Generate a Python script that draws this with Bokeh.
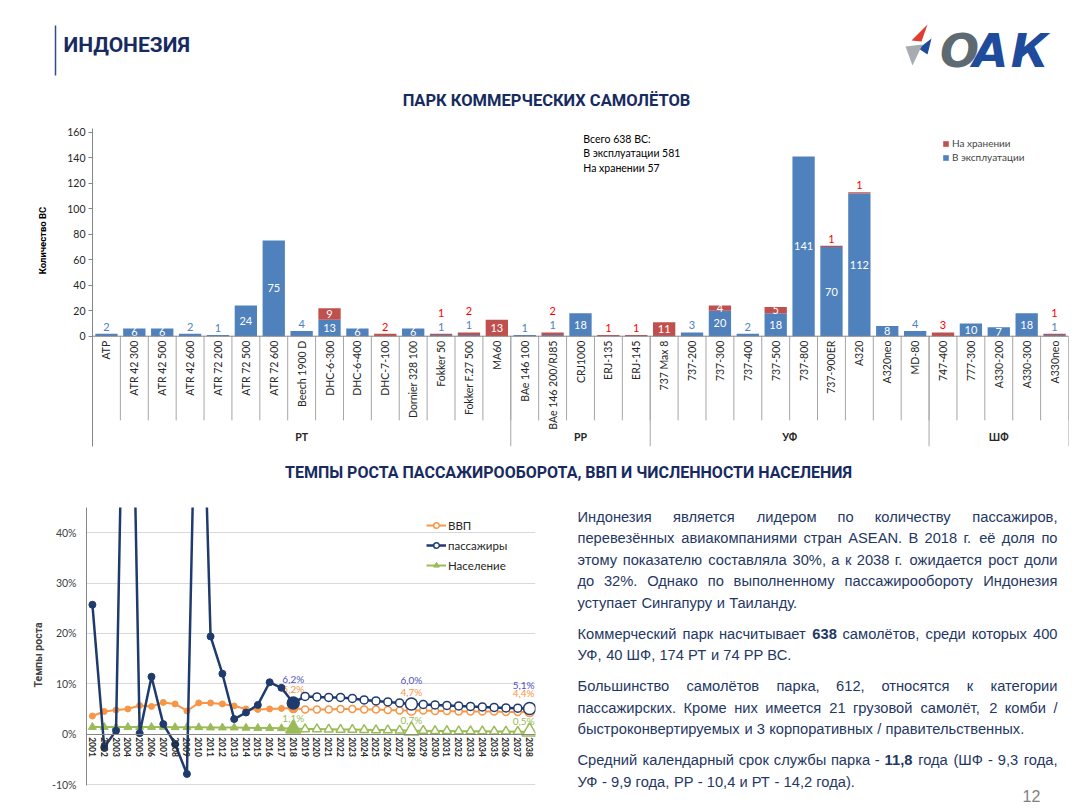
import math
from bokeh.plotting import figure
from bokeh.models import (Range1d, FactorRange, FixedTicker, PrintfTickFormatter,
                          Span, Legend, LegendItem, ColumnDataSource)
from bokeh.layouts import column, row
from bokeh.core.properties import value
from bokeh.embed import file_html
from bokeh.resources import INLINE

# ---------------------------------------------------------------- data
groups = ["РТ", "РР", "УФ", "ШФ"]
group_sizes = [15, 5, 10, 5]
categories = ["ATP", "ATR 42 300", "ATR 42 500", "ATR 42 600", "ATR 72 200",
              "ATR 72 500", "ATR 72 600", "Beech 1900 D", "DHC-6-300", "DHC-6-400",
              "DHC-7-100", "Dornier 328 100", "Fokker 50", "Fokker F.27 500", "MA60",
              "BAe 146 100", "BAe 146 200/RJ85", "CRJ1000", "ERJ-135", "ERJ-145",
              "737 Max 8", "737-200", "737-300", "737-400", "737-500", "737-800",
              "737-900ER", "A320", "A320neo", "MD-80",
              "747-400", "777-300", "A330-200", "A330-300", "A330neo"]
in_service = [2, 6, 6, 2, 1, 24, 75, 4, 13, 6, 0, 6, 1, 1, 0,
              1, 1, 18, 0, 0,
              0, 3, 20, 2, 18, 141, 70, 112, 8, 4,
              0, 10, 7, 18, 1]
in_storage = [0, 0, 0, 0, 0, 0, 0, 0, 9, 0, 2, 0, 1, 2, 13,
              0, 2, 0, 1, 1,
              11, 0, 4, 0, 5, 0, 1, 1, 0, 0,
              3, 0, 0, 0, 1]
fleet_note = ["Всего 638 ВС:", "В эксплуатации 581", "На хранении 57"]
bar_ticks = [0, 20, 40, 60, 80, 100, 120, 140, 160]

years = [str(y) for y in range(2001, 2039)]
gdp = [3.6, 4.5, 4.8, 5.0, 5.7, 5.5, 6.3, 6.0, 4.6, 6.2, 6.2, 6.0, 5.6, 5.0, 4.9, 5.0, 5.1, 5.2,
       4.9, 4.9, 4.9, 5.0, 5.0, 4.9, 4.9, 4.8, 4.7, 4.7, 4.7, 4.6, 4.6, 4.5, 4.5, 4.5, 4.5, 4.4, 4.4, 4.4]
passengers = [25.7, -2.6, 0.7, 125.0, 0.2, 11.4, 2.0, -2.0, -7.9, 102.0, 19.4, 12.0, 3.0, 4.3, 5.8, 10.3, 9.2, 6.2,
              7.5, 7.4, 7.3, 7.3, 7.1, 6.8, 6.6, 6.4, 6.2, 6.0, 5.9, 5.8, 5.7, 5.6, 5.5, 5.4, 5.3, 5.2, 5.15, 5.1]
population = [1.4, 1.4, 1.4, 1.4, 1.4, 1.4, 1.4, 1.35, 1.35, 1.35, 1.3, 1.3, 1.3, 1.25, 1.2, 1.2, 1.15, 1.1,
              1.0, 1.0, 0.95, 0.9, 0.9, 0.85, 0.8, 0.8, 0.75, 0.7, 0.7, 0.65, 0.65, 0.6, 0.6, 0.6, 0.55, 0.55, 0.5, 0.5]
last_actual_year = "2018"
highlight_years = ["2018", "2028", "2038"]
growth_ticks = [-10, 0, 10, 20, 30, 40]

paragraphs = [
    ["Индонезия является лидером по количеству пассажиров,",
     "перевезённых авиакомпаниями стран ASEAN. В 2018 г. её доля по",
     "этому показателю составляла 30%, а к 2038 г. ожидается рост доли",
     "до 32%. Однако по выполненному пассажирообороту Индонезия",
     "уступает Сингапуру и Таиланду."],
    ["Коммерческий парк насчитывает **638 самолётов, среди которых 400",
     "УФ, 40 ШФ, 174 РТ и 74 РР ВС."],
    ["Большинство самолётов парка, 612, относятся к категории",
     "пассажирских. Кроме них имеется 21 грузовой самолёт, 2 комби /",
     "быстроконвертируемых и 3 корпоративных / правительственных."],
    ["Средний календарный срок службы парка - **11,8 года (ШФ - 9,3 года,",
     "УФ - 9,9 года, РР - 10,4 и РТ - 14,2 года)."],
]

# ---------------------------------------------------------------- style
COND = "Roboto"
CAL = "Lato"
ARIAL = "Liberation Sans"
NAVY = "#172B61"
BLUE = "#4F81BD"
RED = "#C0504D"
ORANGE = "#F79646"
DARKBLUE = "#1F3B6E"
GREEN = "#9BBB59"
TEXTBLUE = "#1F3864"


def blank(w, h, x0, y0, top=0, bottom=0):
    """Decoration canvas whose data coordinates equal page pixels."""
    f = figure(width=w, height=h, x_range=Range1d(x0, x0 + w),
               y_range=Range1d(y0 + h - bottom, y0 + top),
               toolbar_location=None, output_backend="svg",
               min_border_left=0, min_border_right=0,
               min_border_top=top, min_border_bottom=bottom)
    f.axis.visible = False
    f.grid.visible = False
    f.outline_line_color = None
    return f


# ---------------------------------------------------------------- header
hdr = blank(1080, 120, 0, 0)
hdr.segment(x0=[55], y0=[25], x1=[55], y1=[75], line_color="#2F4D8F", line_width=1.5)
hdr.text(x=[63], y=[44], text=["ИНДОНЕЗИЯ"], text_font=value(COND), text_font_style="bold",
         text_font_size="21px", text_color=NAVY, text_align="left", text_baseline="middle")
hdr.text(x=[546], y=[100], text=["ПАРК КОММЕРЧЕСКИХ САМОЛЁТОВ"], text_font=value(COND),
         text_font_style="bold", text_font_size="16.5px", text_color=NAVY,
         text_align="center", text_baseline="middle")
# logo
hdr.patches(xs=[[927, 911, 921], [931, 918, 927], [905, 922, 912]],
            ys=[[24, 40, 41], [38, 48, 54], [46, 44, 65]],
            fill_color=["#E03C31", "#1E4B9B", "#A7ACB0"], line_color=None)
hdr.text(x=[959, 990, 1029], y=[50, 50, 50], text=["О", "А", "К"],
         text_color=["#5E6A71", "#1E4B9B", "#1E4B9B"], text_font=value("DejaVu Sans"),
         text_font_style="bold italic", text_font_size="46px",
         text_align="center", text_baseline="middle")

# ---------------------------------------------------------------- bar chart
n = len(categories)
totals = [a + b for a, b in zip(in_service, in_storage)]
Y_TOP, Y_BOT = 162.9, -86.5
bar = figure(width=1022, height=332, x_range=FactorRange(factors=categories, range_padding=0),
             y_range=Range1d(Y_BOT, Y_TOP), toolbar_location=None, output_backend="svg",
             min_border_left=34, min_border_right=12, min_border_top=8, min_border_bottom=6)
bar.outline_line_color = None
bar.xaxis.visible = False
bar.grid.visible = False
bar.yaxis.ticker = FixedTicker(ticks=bar_ticks)
bar.yaxis.minor_tick_line_color = None
bar.yaxis.major_tick_out = 4
bar.yaxis.major_tick_in = 0
bar.yaxis.axis_line_color = "#868686"
bar.yaxis.major_tick_line_color = "#868686"
bar.yaxis.major_label_text_font = CAL
bar.yaxis.major_label_text_font_size = "10.5px"
bar.yaxis.major_label_text_color = "#262626"
bar.yaxis.major_label_standoff = 3

r_serv = bar.vbar(x=categories, bottom=0, top=in_service, width=0.8,
                  fill_color=BLUE, line_color=None)
r_stor = bar.vbar(x=categories, bottom=in_service, top=totals, width=0.8,
                  fill_color=RED, line_color=None)
bar.add_layout(Span(location=0, dimension="width", line_color="#868686", line_width=1))

# value labels
lx, ly, lt, lc_ = [], [], [], []
for c, b, r, t in zip(categories, in_service, in_storage, totals):
    blue_above = 0 < b < 5
    if b >= 5:
        lx.append(c); ly.append(b / 2); lt.append(str(b)); lc_.append("white")
    elif b > 0:
        lx.append(c); ly.append(t + 5.5); lt.append(str(b)); lc_.append(BLUE)
    if r >= 4:
        lx.append(c); ly.append(b + r / 2); lt.append(str(r)); lc_.append("white")
    elif r > 0:
        lx.append(c); ly.append(t + (16.5 if blue_above else 5.5)); lt.append(str(r)); lc_.append("#FF0000")
bar.text(x="x", y="y", text="t", text_color="c",
         source=ColumnDataSource(dict(x=lx, y=ly, t=lt, c=lc_)),
         text_font=value(CAL), text_font_size="11px", text_align="center", text_baseline="middle")

# multi-level category axis drawn below zero
bounds = list(range(n + 1))
cum = [0]
for s in group_sizes:
    cum.append(cum[-1] + s)
bar.segment(x0=bounds, y0=[0] * len(bounds), x1=bounds, y1=[-66] * len(bounds),
            line_color="#A6A6A6", line_width=1)
bar.segment(x0=cum, y0=[0] * len(cum), x1=cum, y1=[Y_BOT] * len(cum),
            line_color="#A6A6A6", line_width=1)
bar.text(x=categories, y=[-3.5] * n, text=categories, angle=math.pi / 2,
         text_align="right", text_baseline="middle", text_font=value(CAL),
         text_font_size="10.5px", text_color="#262626")
bar.text(x=[(cum[i] + cum[i + 1]) / 2 for i in range(len(groups))], y=[-79] * len(groups),
         text=groups, text_align="center", text_baseline="middle", text_font=value(CAL),
         text_font_style="bold", text_font_size="10.5px", text_color="#262626")

bar.text(x=[17.6] * 3, y=[155, 143.3, 132.3], text=fleet_note, text_align="left",
         text_baseline="middle", text_font=value(CAL), text_font_size="10.5px", text_color="#000000")

leg = Legend(items=[LegendItem(label="На хранении", renderers=[r_stor]),
                    LegendItem(label="В эксплуатации", renderers=[r_serv])],
             location=(848, 281), glyph_width=7, glyph_height=7, label_height=12,
             label_standoff=3, spacing=2, padding=2, margin=0,
             label_text_font=CAL, label_text_font_size="10px",
             border_line_alpha=0, background_fill_alpha=0)
bar.add_layout(leg)

ylab = blank(58, 332, 0, 120, top=8, bottom=6)
ylab.text(x=[42], y=[240], text=["Количество ВС"], angle=math.pi / 2,
          text_align="center", text_baseline="middle", text_font=value(COND),
          text_font_style="bold", text_font_size="9.5px", text_color="#000000")

# ---------------------------------------------------------------- second title
sub2 = blank(1080, 40, 0, 452)
sub2.text(x=[568], y=[472], text=["ТЕМПЫ РОСТА ПАССАЖИРООБОРОТА, ВВП И ЧИСЛЕННОСТИ НАСЕЛЕНИЯ"],
          text_font=value(COND), text_font_style="bold", text_font_size="16px",
          text_color=NAVY, text_align="center", text_baseline="middle")

# ---------------------------------------------------------------- line chart
lc = figure(width=560, height=316, x_range=FactorRange(factors=years, range_padding=0),
            y_range=Range1d(-13.57, 45), toolbar_location=None, output_backend="svg",
            min_border_left=86, min_border_right=25, min_border_top=15, min_border_bottom=6)
lc.outline_line_color = None
lc.xgrid.visible = False
lc.ygrid.ticker = FixedTicker(ticks=growth_ticks)
lc.ygrid.grid_line_color = "#D9D9D9"
lc.yaxis.ticker = FixedTicker(ticks=growth_ticks)
lc.yaxis.bounds = (-10.2, 45)
lc.yaxis.formatter = PrintfTickFormatter(format="%d%%")
lc.yaxis.axis_label = "Темпы роста"
lc.yaxis.axis_label_text_font = COND
lc.yaxis.axis_label_text_font_style = "bold"
lc.yaxis.axis_label_text_font_size = "10.5px"
lc.yaxis.axis_label_standoff = 4
lc.yaxis.axis_line_color = "#868686"
lc.yaxis.major_tick_out = 0
lc.yaxis.major_tick_in = 0
lc.yaxis.minor_tick_line_color = None
lc.yaxis.major_label_standoff = 10
lc.yaxis.major_label_text_font = CAL
lc.yaxis.major_label_text_font_size = "10.5px"
lc.yaxis.major_label_text_color = "#404040"
lc.xaxis.fixed_location = 0
lc.xaxis.axis_line_color = "#868686"
lc.xaxis.major_tick_out = 0
lc.xaxis.major_tick_in = 0
lc.xaxis.major_label_orientation = "vertical"
lc.xaxis.major_label_standoff = 3
lc.xaxis.major_label_text_font = CAL
lc.xaxis.major_label_text_font_style = "bold"
lc.xaxis.major_label_text_font_size = "8.5px"
lc.xaxis.major_label_text_color = "#262626"

n_hist = years.index(last_actual_year) + 1


def pct(v):
    return f"{v:.1f}".replace(".", ",") + "%"


def series(ys, color, marker, s_hist, s_fc, s_hi, lw, lab_color, lab_off):
    ln = lc.line(years, ys, line_color=color, line_width=lw)
    hist = lc.scatter(years[:n_hist], ys[:n_hist], marker=marker, size=s_hist,
                      fill_color=color, line_color=color)
    fc = lc.scatter(years[n_hist:], ys[n_hist:], marker=marker, size=s_fc,
                    fill_color="white", line_color=color, line_width=1.5)
    hy = [ys[years.index(y)] for y in highlight_years]
    hf = [color if years.index(y) < n_hist else "white" for y in highlight_years]
    lc.scatter(highlight_years, hy, marker=marker, size=s_hi, fill_color=hf,
               line_color=color, line_width=1.5)
    style = dict(text_color=lab_color, text_font=value(CAL), text_font_size="10px",
                 text_baseline="middle")
    # inner highlighted years: centred labels; last year: kept inside the plot
    lc.text(x=highlight_years[:-1], y=[v + lab_off for v in hy[:-1]],
            text=[pct(v) for v in hy[:-1]], text_align="center", **style)
    lc.text(x=highlight_years[-1:], y=[v + lab_off for v in hy[-1:]],
            text=[pct(v) for v in hy[-1:]], text_align="right", x_offset=5, **style)
    return ln, hist, fc


pop_r = series(population, GREEN, "triangle", 8, 9, 15, 2, GREEN, 2.1)
gdp_r = series(gdp, ORANGE, "circle", 6, 7, 9, 2, ORANGE, 3.7)
pas_r = series(passengers, DARKBLUE, "circle", 7, 8, 12, 2.5, "#5050C0", 4.7)

lleg = Legend(items=[LegendItem(label="ВВП", renderers=[gdp_r[0], gdp_r[2]]),
                     LegendItem(label="пассажиры", renderers=[pas_r[0], pas_r[2]]),
                     LegendItem(label="Население", renderers=[pop_r[0], pop_r[1]])],
              location=(340, 229), glyph_width=20, glyph_height=14, label_height=16,
              label_standoff=2, spacing=4, padding=0, margin=0,
              label_text_font=CAL, label_text_font_size="11.5px", label_text_color="#262626",
              border_line_alpha=0, background_fill_alpha=0)
lc.add_layout(lleg)

# ---------------------------------------------------------------- text block
W = {}
for ch, w in zip("абвгдеёжзийклмнопрстуфхцчшщъыьэюя",
                 [556, 573, 531, 365, 583, 556, 556, 669, 458, 559, 559, 438, 583, 688, 552, 556, 542,
                  556, 500, 458, 500, 823, 500, 573, 521, 802, 823, 625, 719, 521, 510, 750, 542]):
    W[ch] = w
for ch, w in zip("АБВГДЕЁЖЗИЙКЛМНОПРСТУФХЦЧШЩЪЫЬЭЮЯ",
                 [667, 656, 667, 542, 677, 667, 667, 923, 604, 719, 719, 583, 656, 833, 722, 778, 719,
                  667, 722, 611, 635, 760, 667, 740, 667, 917, 938, 792, 885, 656, 719, 1010, 722]):
    W[ch] = w
W.update({"A": 667, "S": 667, "E": 667, "N": 722, " ": 278, ",": 278, ".": 278, "%": 889,
          "(": 333, ")": 333, "-": 333, "/": 278})
FS = 14.7


def tw(s):
    return sum(W.get(ch, 556) for ch in s) * FS / 1000


tx = blank(520, 316, 560, 492, top=15, bottom=6)
X0, X1 = 577, 1057
line_y = [[516, 537.7, 559.3, 580.7, 602.7], [633.3, 654.3], [685.7, 707, 728.7], [759.3, 781]]
buckets = {}
for para, ys in zip(paragraphs, line_y):
    for li, (ln, y) in enumerate(zip(para, ys)):
        words = ln.split(" ")
        bold = [w.startswith("**") for w in words]
        words = [w.replace("**", "") for w in words]
        widths = [tw(w) for w in words]
        justify = li < len(para) - 1
        gap = (X1 - X0 - sum(widths)) / (len(words) - 1) if justify else tw(" ")
        x = X0
        for k, (w, wd, b) in enumerate(zip(words, widths, bold)):
            if justify and k == len(words) - 1:
                key, px = (b, "right"), X1
            else:
                key, px = (b, "left"), x
            d = buckets.setdefault(key, dict(x=[], y=[], t=[]))
            d["x"].append(px); d["y"].append(y); d["t"].append(w)
            x += wd + gap
for (b, al), d in buckets.items():
    tx.text(x="x", y="y", text="t", source=ColumnDataSource(d), text_align=al,
            text_baseline="middle", text_font=value(ARIAL), text_font_size=f"{FS}px",
            text_font_style="bold" if b else "normal", text_color=TEXTBLUE)
tx.text(x=[1031], y=[795], text=["12"], text_align="center", text_baseline="middle",
        text_font=value(ARIAL), text_font_size="16px", text_color="#7F7F7F")

layout = column(hdr, row(ylab, bar), sub2, row(lc, tx))
open("out.html", "w").write(file_html(layout, INLINE))
